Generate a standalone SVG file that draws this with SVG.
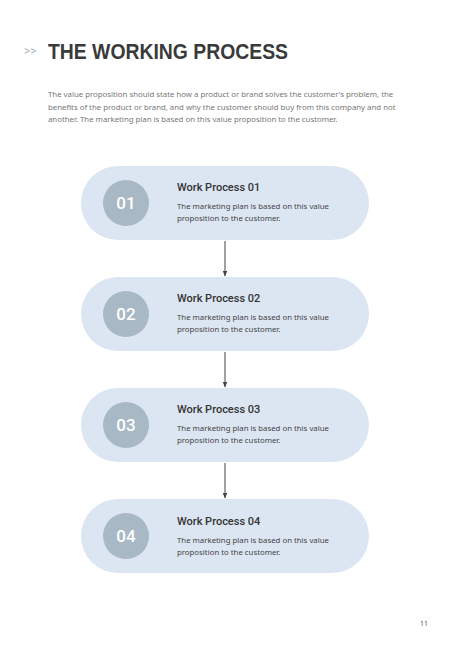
<svg xmlns="http://www.w3.org/2000/svg" width="450" height="650" viewBox="0 0 450 650">
<style>
.pill{fill:#dce6f2}
.circ{fill:#a8b8c4}
.num{font-family:Roboto,"Liberation Sans",sans-serif;font-size:17px;font-weight:500;fill:#ffffff;text-anchor:middle}
.ttl{font-family:Roboto,"Liberation Sans",sans-serif;font-size:11px;font-weight:500;fill:#333333}
.dsc{font-family:"Noto Sans","Liberation Sans",sans-serif;font-size:7.8px;fill:#444444}
.conn{stroke:#444444;stroke-width:1;fill:none}
</style>
<defs>
<marker id="ah" viewBox="0 0 10 10" refX="9" refY="5" markerWidth="6" markerHeight="6" orient="auto">
<path d="M0,1 L10,5 L0,9 z" fill="#444444"/>
</marker>
</defs>
<rect width="450" height="650" fill="#ffffff"/>
<g id="header">
<text x="24" y="55" font-family="Roboto,'Liberation Sans',sans-serif" font-size="12" fill="#a8b8c4">&gt;&gt;</text>
<text x="48" y="58.5" font-family="'Liberation Sans',Arial,sans-serif" font-size="22" font-weight="bold" fill="#3a3a3a" textLength="240" lengthAdjust="spacingAndGlyphs">THE WORKING PROCESS</text>
<g font-family="'Noto Sans','Liberation Sans',sans-serif" font-size="7.8" fill="#777777">
<text x="48" y="97">The value proposition should state how a product or brand solves the customer's problem, the</text>
<text x="48" y="109.5">benefits of the product or brand, and why the customer should buy from this company and not</text>
<text x="48" y="122">another. The marketing plan is based on this value proposition to the customer.</text>
</g>
</g>
<g id="connectors">
<line class="conn" x1="225" y1="241" x2="225" y2="276" marker-end="url(#ah)"/>
<line class="conn" x1="225" y1="352" x2="225" y2="387" marker-end="url(#ah)"/>
<line class="conn" x1="225" y1="463" x2="225" y2="498" marker-end="url(#ah)"/>
</g>
<g id="node1">
<rect class="pill" x="81" y="166" width="288" height="74" rx="37"/>
<circle class="circ" cx="126" cy="203" r="23"/>
<text class="num" x="126" y="209">01</text>
<text class="ttl" x="177" y="191">Work Process 01</text>
<text class="dsc" x="177" y="209">The marketing plan is based on this value</text>
<text class="dsc" x="177" y="221">proposition to the customer.</text>
</g>
<g id="node2">
<rect class="pill" x="81" y="277" width="288" height="74" rx="37"/>
<circle class="circ" cx="126" cy="314" r="23"/>
<text class="num" x="126" y="320">02</text>
<text class="ttl" x="177" y="302">Work Process 02</text>
<text class="dsc" x="177" y="320">The marketing plan is based on this value</text>
<text class="dsc" x="177" y="332">proposition to the customer.</text>
</g>
<g id="node3">
<rect class="pill" x="81" y="388" width="288" height="74" rx="37"/>
<circle class="circ" cx="126" cy="425" r="23"/>
<text class="num" x="126" y="431">03</text>
<text class="ttl" x="177" y="413">Work Process 03</text>
<text class="dsc" x="177" y="431">The marketing plan is based on this value</text>
<text class="dsc" x="177" y="443">proposition to the customer.</text>
</g>
<g id="node4">
<rect class="pill" x="81" y="499" width="288" height="74" rx="37"/>
<circle class="circ" cx="126" cy="536" r="23"/>
<text class="num" x="126" y="542">04</text>
<text class="ttl" x="177" y="525">Work Process 04</text>
<text class="dsc" x="177" y="543">The marketing plan is based on this value</text>
<text class="dsc" x="177" y="555">proposition to the customer.</text>
</g>
<text x="420" y="626" font-family="'Noto Sans','Liberation Sans',sans-serif" font-size="7" fill="#555555">11</text>
</svg>
